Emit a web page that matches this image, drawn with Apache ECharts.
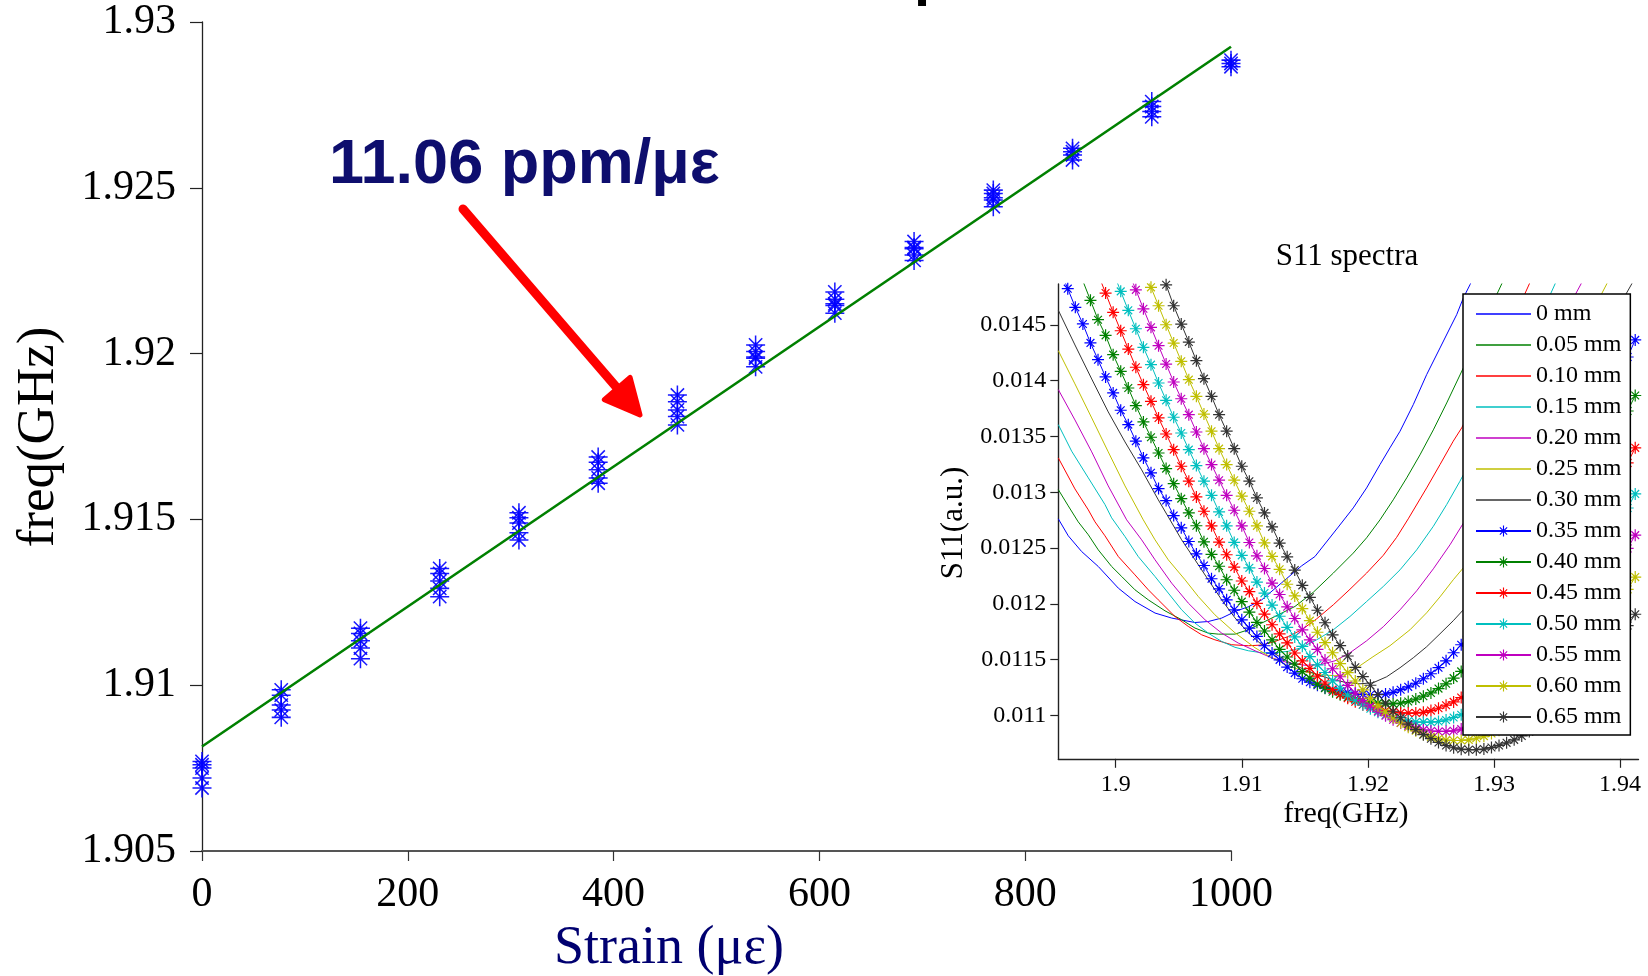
<!DOCTYPE html>
<html>
<head>
<meta charset="utf-8">
<script src="https://cdn.jsdelivr.net/npm/echarts@6/dist/echarts.min.js"></script>
<style>
  html, body { margin: 0; padding: 0; background: #ffffff; }
  #chart { width: 1648px; height: 976px; }
</style>
</head>
<body>
<div id="chart"></div>
<script>
// ---------- Strain response: resonance frequency vs applied strain ----------
const strainLevels = [0, 77, 154, 231, 308, 385, 462, 538, 615, 692, 769, 846, 923, 1000];
const freqReadings = [
  [1.9077, 1.9076, 1.9075, 1.9072, 1.9069],
  [1.90986, 1.9097, 1.9094, 1.90925, 1.90903],
  [1.91172, 1.91156, 1.91134, 1.91112, 1.9108],
  [1.91352, 1.91337, 1.91314, 1.91292, 1.91267],
  [1.9152, 1.91505, 1.91489, 1.9146, 1.91438],
  [1.91688, 1.91672, 1.9165, 1.91625, 1.91609],
  [1.91875, 1.91855, 1.9183, 1.9181, 1.91785],
  [1.92026, 1.92006, 1.91986, 1.9199, 1.9196],
  [1.92186, 1.92164, 1.9215, 1.92145, 1.92122],
  [1.92338, 1.9232, 1.92316, 1.92297, 1.92281],
  [1.92493, 1.92483, 1.9247, 1.92463, 1.92443],
  [1.92619, 1.92609, 1.92599, 1.92584],
  [1.9276, 1.92745, 1.9273, 1.92714],
  [1.92885, 1.92875, 1.92865]
];
const FIT_INTERCEPT = 1.90815;   // GHz at zero strain
const FIT_SLOPE_PPM = 11.06;     // ppm per microstrain
const strainTicks = [0, 200, 400, 600, 800, 1000];
const freqTicks = [1.905, 1.91, 1.915, 1.92, 1.925, 1.93];

// ---------- S11 spectra (inset) ----------
const spectraFreqTicks = [1.9, 1.91, 1.92, 1.93, 1.94];
const spectraS11Ticks = [0.011, 0.0115, 0.012, 0.0125, 0.013, 0.0135, 0.014, 0.0145];

// Sweep frequencies (GHz) of the marked traces
const sweepFreq = [
  1.8956, 1.8962, 1.8968, 1.8974, 1.8980, 1.8986, 1.8992, 1.8998, 1.9004, 1.9010,
  1.9016, 1.9022, 1.9028, 1.9034, 1.9040, 1.9046, 1.9052, 1.9058, 1.9064, 1.9070,
  1.9076, 1.9082, 1.9088, 1.9094, 1.9100, 1.9106, 1.9112, 1.9118, 1.9124, 1.9130,
  1.9136, 1.9142, 1.9148, 1.9154, 1.9160, 1.9166, 1.9172, 1.9178, 1.9184, 1.9190,
  1.9196, 1.9202, 1.9208, 1.9214, 1.9220, 1.9226, 1.9232, 1.9238, 1.9244, 1.9250,
  1.9256, 1.9262, 1.9268, 1.9274, 1.9280, 1.9286, 1.9292, 1.9298, 1.9304, 1.9310,
  1.9316, 1.9322, 1.9328, 1.9334, 1.9340, 1.9346, 1.9352, 1.9358, 1.9364, 1.9370,
  1.9376, 1.9382, 1.9388, 1.9394, 1.9400, 1.9406, 1.9412
];

// Plain traces: [freq GHz, S11]
const s11_000 = [[1.89545,.012762],[1.89624,.01261],[1.8973,.012469],[1.89862,.012335],[1.90021,.012141],[1.90153,.012021],[1.90312,.011918],[1.90444,.011873],[1.90629,.011833],[1.90734,.011842],[1.90841,.011873],[1.9096,.011938],[1.91052,.011974],[1.91158,.012036],[1.91316,.012189],[1.91475,.012341],[1.9158,.012424],[1.91765,.012688],[1.91884,.01286],[1.9199,.013039],[1.92096,.013248],[1.92175,.013398],[1.92255,.013547],[1.9236,.013785],[1.92466,.014054],[1.92572,.014293],[1.92651,.014472],[1.92704,.014591],[1.92757,.014741],[1.9281,.01486],[1.92857,.014982]];
const s11_005 = [[1.89545,.013024],[1.89624,.012878],[1.89703,.012735],[1.89783,.012619],[1.89862,.012484],[1.89968,.012335],[1.90048,.012245],[1.90153,.012126],[1.90259,.012036],[1.90391,.011938],[1.90523,.011858],[1.90629,.011783],[1.90734,.011738],[1.90814,.011729],[1.90946,.011729],[1.91052,.011768],[1.91158,.011828],[1.91263,.011887],[1.91422,.011977],[1.91567,.012104],[1.91726,.012276],[1.91884,.012455],[1.9199,.012592],[1.92096,.012753],[1.92201,.012932],[1.92308,.013129],[1.92413,.013335],[1.92519,.013559],[1.92625,.0138],[1.92757,.014114],[1.92905,.01449],[1.93061,.014866],[1.93111,.014982]];
const s11_010 = [[1.89545,.013308],[1.89677,.01303],[1.89783,.012842],[1.89836,.012735],[1.89915,.01261],[1.90021,.012424],[1.90153,.01226],[1.90259,.012126],[1.90338,.012036],[1.9047,.011887],[1.90576,.011798],[1.90682,.011723],[1.90787,.011678],[1.9092,.011634],[1.91052,.011625],[1.91158,.011631],[1.91263,.011663],[1.91369,.011708],[1.91475,.011768],[1.91594,.011866],[1.91726,.011992],[1.91858,.012131],[1.9199,.012276],[1.92122,.012435],[1.92228,.012596],[1.9232,.012762],[1.92466,.013039],[1.92572,.013248],[1.92677,.013458],[1.92744,.013577],[1.93008,.014186],[1.9328,.014866],[1.93325,.014991]];
const s11_015 = [[1.89545,.013606],[1.89651,.013368],[1.89783,.013129],[1.89915,.01289],[1.89968,.012771],[1.90074,.012603],[1.90179,.012424],[1.90312,.012245],[1.90417,.012097],[1.90523,.011947],[1.90629,.011828],[1.90734,.011738],[1.90841,.011663],[1.90946,.011611],[1.91052,.01158],[1.91158,.011562],[1.91263,.011562],[1.91369,.011575],[1.91462,.011604],[1.91594,.011678],[1.91726,.011768],[1.91858,.011887],[1.9199,.012021],[1.92122,.012156],[1.92255,.012305],[1.92387,.012484],[1.92519,.012695],[1.92625,.01289],[1.9273,.013099],[1.92968,.013604],[1.93206,.014168],[1.93484,.014866],[1.93539,.015009]];
const s11_020 = [[1.89545,.01392],[1.89677,.013648],[1.8981,.013362],[1.89941,.013057],[1.90087,.012753],[1.90206,.012574],[1.90312,.012395],[1.90444,.012186],[1.90576,.012007],[1.90708,.011858],[1.90841,.011738],[1.90972,.011649],[1.91105,.01158],[1.91237,.011517],[1.91369,.011472],[1.91501,.01145],[1.9162,.011455],[1.91739,.01149],[1.91858,.011562],[1.9199,.011669],[1.92122,.011795],[1.92255,.011947],[1.92387,.012117],[1.92519,.012314],[1.92651,.012529],[1.92757,.012723],[1.93048,.013362],[1.93365,.014186],[1.9369,.014866],[1.93745,.015009]];
const s11_025 = [[1.89545,.014269],[1.89677,.013971],[1.8981,.013666],[1.89941,.013362],[1.90074,.013057],[1.90219,.012753],[1.90312,.012574],[1.90417,.012395],[1.9055,.012216],[1.90655,.012066],[1.90787,.011902],[1.90946,.011741],[1.91105,.011607],[1.91237,.011517],[1.91369,.011446],[1.91501,.011392],[1.9162,.011365],[1.91739,.011356],[1.91818,.011365],[1.91914,.011428],[1.9204,.011526],[1.92175,.011625],[1.92334,.011768],[1.92466,.01192],[1.92572,.012063],[1.92677,.012216],[1.92757,.012323],[1.93048,.012887],[1.93365,.013648],[1.93642,.01432],[1.93894,.014866],[1.93952,.015009]];
const s11_030 = [[1.89545,.014631],[1.89677,.01432],[1.8981,.014015],[1.89941,.01372],[1.90074,.013451],[1.90206,.013201],[1.90338,.012932],[1.90431,.012753],[1.90523,.012574],[1.90629,.012395],[1.90734,.012216],[1.90841,.012036],[1.90946,.011875],[1.91052,.011741],[1.91158,.011634],[1.91263,.011553],[1.91369,.011481],[1.91475,.011423],[1.9158,.011374],[1.91699,.011329],[1.91818,.011298],[1.91937,.011284],[1.9204,.011293],[1.92149,.011347],[1.92255,.011428],[1.9236,.011517],[1.92466,.011616],[1.92572,.011732],[1.92677,.011849],[1.92757,.011947],[1.93048,.012529],[1.93365,.01329],[1.93682,.014051],[1.94092,.014866],[1.94146,.014991]];

// Marked traces: S11 values on sweepFreq, starting at the given sweep index
const s11_035_start = 0;
const s11_035 = [.014991,.014824,.014657,.014508,.014338,.014188,.014033,.01389,.013735,.013606,.013458,.013308,.013174,.013033,.012926,.012791,.012681,.012559,.012448,.012344,.012225,.012135,.012036,.011947,.011857,.011783,.011708,.011625,.011559,.011499,.011434,.01138,.011329,.011298,.011271,.011249,.011231,.011217,.011206,.011197,.01119,.011186,.011186,.011192,.011208,.011231,.011257,.011289,.011329,.011374,.011428,.01149,.011562,.011634,.01171,.01179,.011875,.011965,.012059,.012157,.01226,.012368,.01248,.012596,.012717,.012842,.012968,.013098,.013227,.013362,.013496,.013635,.013774,.013917,.01406,.014212,.014365];
const s11_040_start = 3;
const s11_040 = [.014893,.01472,.014546,.014406,.014233,.014084,.013934,.013776,.01363,.013493,.013352,.013212,.013077,.012943,.012815,.0127,.012556,.012444,.012337,.012216,.012122,.01202,.011927,.011835,.011757,.011678,.011592,.011524,.011461,.011393,.011335,.011281,.011245,.011213,.011186,.011164,.011147,.011131,.011119,.011111,.011104,.011104,.01111,.011125,.011147,.011173,.011202,.011241,.011284,.011335,.011395,.011464,.011533,.011607,.011684,.011765,.011851,.011942,.012036,.012135,.012238,.012345,.012457,.012575,.012694,.012814,.012939,.013064,.013193,.013321,.013455,.01359,.013728,.013867];
const s11_045_start = 5;
const s11_045 = [.014956,.014785,.014612,.014447,.014283,.01412,.013964,.013815,.013666,.013522,.013382,.013233,.013099,.012958,.01283,.012699,.012554,.01244,.01233,.012205,.01211,.012005,.011909,.011813,.011731,.01165,.01156,.011489,.011423,.011352,.011291,.011233,.011192,.011155,.011123,.011096,.011076,.011056,.011042,.011031,.011023,.011022,.011022,.011028,.011044,.011065,.011092,.011122,.011161,.011205,.011257,.011317,.011386,.011456,.01153,.011609,.011691,.011778,.011869,.011964,.012064,.012168,.012277,.01239,.012508,.012629,.01275,.012876,.013003,.013132,.013263,.013398];
const s11_050_start = 7;
const s11_050 = [.014973,.0148,.01463,.014465,.014299,.014143,.013979,.013824,.013672,.013531,.013382,.013239,.013099,.012973,.012824,.012699,.012551,.012435,.012323,.012195,.012097,.011989,.011889,.01179,.011704,.01162,.011528,.011454,.011385,.01131,.011246,.011183,.011138,.011096,.011061,.011029,.011004,.010982,.010964,.01095,.010941,.01094,.01094,.010946,.01096,.010982,.011007,.011036,.011074,.011116,.011167,.011226,.011293,.011361,.011432,.011508,.011588,.011672,.011761,.011853,.01195,.012051,.012156,.012266,.012379,.012497,.012615,.012737,.012859,.012985];
const s11_055_start = 9;
const s11_055 = [.014982,.014814,.014644,.014478,.014313,.014149,.013988,.013838,.013695,.01354,.013391,.013248,.013108,.012973,.012839,.012699,.01255,.012431,.012317,.012186,.012084,.011974,.011869,.011768,.011678,.011592,.011497,.011419,.011347,.01127,.011201,.011135,.011086,.011038,.010998,.010962,.010933,.010907,.010886,.010871,.010861,.010857,.010857,.010863,.010878,.010899,.010924,.010952,.010989,.01103,.011079,.011138,.011203,.011269,.011339,.011413,.011491,.011574,.011661,.011751,.011846,.011944,.012047,.012155,.012266,.012381,.012497,.012616];
const s11_060_start = 11;
const s11_060 = [.0150,.014836,.014671,.014501,.014337,.014173,.014009,.01386,.013701,.013547,.013391,.013248,.013108,.012965,.01283,.012699,.012547,.012426,.01231,.012176,.012071,.011958,.01185,.011746,.011652,.011562,.011464,.011384,.011309,.011229,.011156,.011087,.011033,.01098,.010935,.010895,.010863,.010832,.010809,.010791,.010779,.010776,.010776,.010781,.010796,.010815,.010839,.010867,.010902,.010942,.01099,.011045,.011108,.011172,.011239,.01131,.011386,.011464,.011548,.011635,.011726,.011821,.011919,.012022,.01213,.01224];
const s11_065_start = 13;
const s11_065 = [.015045,.014859,.014671,.014507,.014346,.014179,.014018,.01386,.013695,.013547,.013391,.013233,.013099,.012949,.012815,.01269,.012545,.012422,.012303,.012166,.012059,.011943,.011831,.011723,.011626,.011533,.011432,.011349,.011271,.011188,.011112,.011038,.01098,.010922,.010873,.010828,.010792,.010758,.010731,.010711,.010698,.010693,.010693,.010699,.010713,.010732,.010755,.010782,.010817,.010856,.010901,.010955,.011017,.011079,.011144,.011214,.011286,.011363,.011445,.011529,.011618,.01171,.011806,.011907];

const traceNames = ['0 mm','0.05 mm','0.10 mm','0.15 mm','0.20 mm','0.25 mm','0.30 mm',
                    '0.35 mm','0.40 mm','0.45 mm','0.50 mm','0.55 mm','0.60 mm','0.65 mm'];
const traceColors = ['#0000ff','#008000','#ff0000','#00bfbf','#bf00bf','#bfbf00','#333333'];

// ---------- marker shapes (asterisk built from four thin bars) ----------
const STAR_MAIN = 'path://M0,9.2H20V10.8H0Z M9.2,0H10.8V20H9.2Z M2.43,3.57L3.57,2.43L17.57,16.43L16.43,17.57Z M16.43,2.43L17.57,3.57L3.57,17.57L2.43,16.43Z';
const STAR_INSET = 'path://M0,9H20V11H0Z M9,0H11V20H9Z M2.79,4.21L4.21,2.79L17.21,15.79L15.79,17.21Z M15.79,2.79L17.21,4.21L4.21,17.21L2.79,15.79Z';
const LINE_ICON = 'path://M0,0H55V1.4H0Z';

// ---------- build series ----------
const scatterData = [];
strainLevels.forEach((s, i) => freqReadings[i].forEach(f => scatterData.push([s, f])));

const fitEnd = FIT_INTERCEPT * (1 + FIT_SLOPE_PPM * 1e-6 * 1000);
const fitData = [[0, FIT_INTERCEPT], [1000, fitEnd]];

const plainTraces = [s11_000, s11_005, s11_010, s11_015, s11_020, s11_025, s11_030];
const markedTraces = [
  [s11_035_start, s11_035], [s11_040_start, s11_040], [s11_045_start, s11_045],
  [s11_050_start, s11_050], [s11_055_start, s11_055], [s11_060_start, s11_060],
  [s11_065_start, s11_065]
];

const series = [
  {
    type: 'scatter', xAxisIndex: 0, yAxisIndex: 0, data: scatterData,
    symbol: STAR_MAIN, symbolSize: 19,
    itemStyle: { color: '#0000ff', opacity: 0.9 }, z: 2
  },
  {
    type: 'line', xAxisIndex: 0, yAxisIndex: 0, data: fitData,
    symbol: 'none', lineStyle: { color: '#008000', width: 2.6 }, z: 3
  }
];

plainTraces.forEach((pts, i) => {
  series.push({
    type: 'line', name: traceNames[i], xAxisIndex: 1, yAxisIndex: 1,
    data: pts, symbol: 'none', clip: true,
    itemStyle: { color: traceColors[i] },
    lineStyle: { color: traceColors[i], width: 1 }, z: 2
  });
});
markedTraces.forEach(([start, vals], i) => {
  const c = traceColors[i];
  series.push({
    type: 'line', name: traceNames[i + 7], xAxisIndex: 1, yAxisIndex: 1,
    data: vals.map((v, j) => [sweepFreq[start + j], v]),
    symbol: STAR_INSET, symbolSize: 12, showSymbol: true, clip: true,
    itemStyle: { color: c },
    lineStyle: { color: c, width: 1 }, z: 2
  });
});

const legendData = traceNames.map((n, i) => i < 7 ? { name: n, icon: LINE_ICON } : { name: n });

const serif = 'Liberation Serif';

const option = {
  animation: false,
  backgroundColor: '#ffffff',
  textStyle: { fontFamily: serif },
  grid: [
    { left: 202, top: 22, width: 1029, height: 829 },
    { left: 1058.3, top: 284, width: 580.2, height: 474.8 }
  ],
  xAxis: [
    {
      gridIndex: 0, type: 'value', min: 0, max: 1000, interval: 200,
      axisLine: { show: true, lineStyle: { color: '#555555', width: 2 } },
      axisTick: { show: true, length: 10, lineStyle: { color: '#333333', width: 1.2 } },
      axisLabel: { fontSize: 42, color: '#000', margin: 23, fontFamily: serif,
        formatter: v => strainTicks.includes(v) ? String(v) : '' },
      splitLine: { show: false }
    },
    {
      gridIndex: 1, type: 'value', min: 1.89545, max: 1.94146,
      axisLine: { show: true, onZero: false, lineStyle: { color: '#222222', width: 1.4 } },
      axisTick: { show: true, length: 9, customValues: spectraFreqTicks, lineStyle: { color: '#222222', width: 1.2 } },
      axisLabel: { fontSize: 24, color: '#000', margin: 14, fontFamily: serif,
        customValues: spectraFreqTicks, formatter: v => String(+v.toFixed(3)) },
      splitLine: { show: false }
    }
  ],
  yAxis: [
    {
      gridIndex: 0, type: 'value', min: 1.905, max: 1.93, interval: 0.005,
      axisLine: { show: true, lineStyle: { color: '#222222', width: 1.3 } },
      axisTick: { show: true, length: 12, lineStyle: { color: '#222222', width: 1.2 } },
      axisLabel: { fontSize: 42, color: '#000', margin: 26, fontFamily: serif,
        formatter: v => String(+v.toFixed(3)) },
      splitLine: { show: false }
    },
    {
      gridIndex: 1, type: 'value', min: 0.010612, max: 0.014866,
      axisLine: { show: true, onZero: false, lineStyle: { color: '#222222', width: 1.4 } },
      axisTick: { show: true, length: 8, customValues: spectraS11Ticks, lineStyle: { color: '#222222', width: 1.2 } },
      axisLabel: { fontSize: 24, color: '#000', margin: 12, fontFamily: serif,
        customValues: spectraS11Ticks, formatter: v => String(+v.toFixed(4)) },
      splitLine: { show: false }
    }
  ],
  legend: {
    data: legendData,
    orient: 'vertical',
    left: 1463, top: 294,
    padding: [8, 9, 6, 12],
    itemGap: 7, itemWidth: 55, itemHeight: 14,
    backgroundColor: '#ffffff',
    borderColor: '#000000', borderWidth: 1.5, borderRadius: 0,
    selectedMode: false,
    textStyle: { fontFamily: serif, fontSize: 24, color: '#000', lineHeight: 24 }
  },
  graphic: [
    // fragment of the slide heading, cut by the top edge
    { type: 'text', x: 914, y: -22, silent: true,
      style: { text: 'p', font: 'bold 58px "Liberation Sans"', fill: '#000', align: 'left', verticalAlign: 'middle' } },
    // sensitivity annotation
    { type: 'text', x: 329, y: 166, silent: true,
      style: { text: '11.06 ppm/με', font: 'bold 63px "Liberation Sans"', fill: '#0e0e6e', align: 'left', verticalAlign: 'middle' } },
    { type: 'polyline', silent: true, z: 10,
      shape: { points: [[463, 209], [624, 396]] },
      style: { stroke: '#ff0000', lineWidth: 9, lineCap: 'round', fill: null } },
    { type: 'polygon', silent: true, z: 10,
      shape: { points: [[640, 415], [604.3, 399.6], [630.1, 377.4]] },
      style: { fill: '#ff0000', stroke: '#ff0000', lineWidth: 5, lineJoin: 'round' } },
    // main axis names
    { type: 'text', x: 39, y: 437, rotation: Math.PI / 2, silent: true,
      style: { text: 'freq(GHz)', font: '53px "Liberation Serif"', fill: '#000', align: 'center', verticalAlign: 'middle' } },
    { type: 'text', x: 669, y: 949, silent: true,
      style: { text: 'Strain (με)', font: '54px "Liberation Serif"', fill: '#000070', align: 'center', verticalAlign: 'middle' } },
    // inset title and axis names
    { type: 'text', x: 1347, y: 257, silent: true,
      style: { text: 'S11 spectra', font: '31px "Liberation Serif"', fill: '#000', align: 'center', verticalAlign: 'middle' } },
    { type: 'text', x: 954, y: 523, rotation: Math.PI / 2, silent: true,
      style: { text: 'S11(a.u.)', font: '31px "Liberation Serif"', fill: '#000', align: 'center', verticalAlign: 'middle' } },
    { type: 'text', x: 1346, y: 814, silent: true,
      style: { text: 'freq(GHz)', font: '30px "Liberation Serif"', fill: '#000', align: 'center', verticalAlign: 'middle' } }
  ],
  series: series
};

const chart = echarts.init(document.getElementById('chart'), null, { renderer: 'canvas' });
chart.setOption(option);
</script>
</body>
</html>
